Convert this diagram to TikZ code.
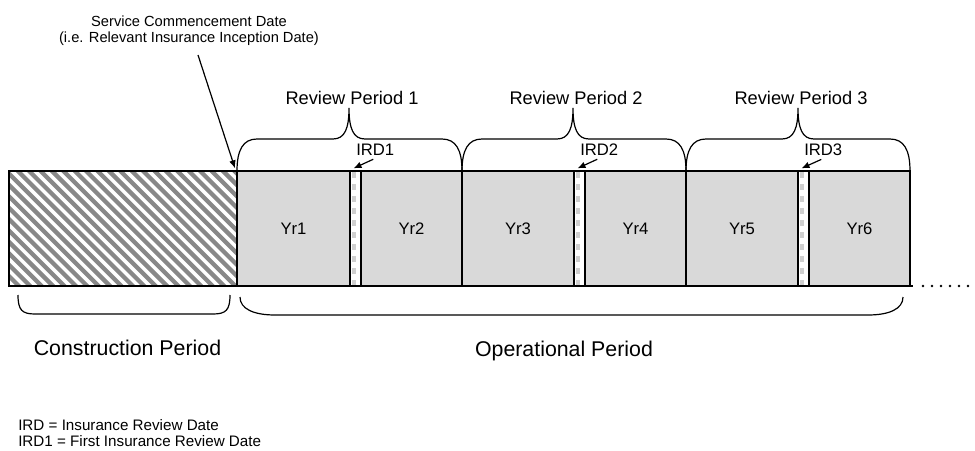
\documentclass[tikz,border=0pt]{standalone}
\usepackage{fontspec}
\setmainfont{Liberation Sans}
\usetikzlibrary{arrows.meta,calc}
\definecolor{boxgray}{HTML}{D9D9D9}
\definecolor{hatchgray}{HTML}{888888}
\definecolor{stripgray}{HTML}{CFCFCF}
\newcommand\TopBrace[3]{%
  \draw[bracepath] (#1,171) .. controls (#1,150) and (#1+6,139) .. (#1+20,139)
    -- (#3-16,139) .. controls (#3-4,139) and (#3,128) .. (#3,108)
    .. controls (#3,128) and (#3+4,139) .. (#3+16,139)
    -- (#2-20,139) .. controls (#2-6,139) and (#2,150) .. (#2,171);}
\begin{document}
\begin{tikzpicture}[x=0.75pt,y=-0.75pt,
  yearbox/.style={draw=black, fill=boxgray, line width=1pt, minimum height=115*0.75pt,
    inner sep=0pt, outer sep=0pt, anchor=north west, font=\fontsize{12.5}{15}\selectfont},
  irdbox/.style={draw=black, fill=white, line width=1pt, minimum height=115*0.75pt,
    minimum width=11*0.75pt, inner sep=0pt, outer sep=0pt, anchor=north west},
  hatchbox/.style={draw=black, fill=white, line width=1pt, minimum height=115*0.75pt,
    inner sep=0pt, outer sep=0pt, anchor=north west},
  bracepath/.style={draw=black, line width=0.9pt},
  rplabel/.style={anchor=base, inner sep=0pt, font=\fontsize{13.7}{16}\selectfont},
  irdlabel/.style={anchor=base west, inner sep=0pt, font=\fontsize{12.5}{15}\selectfont},
  smalltext/.style={inner sep=0pt, font=\fontsize{11}{12}\selectfont},
  legendtext/.style={inner sep=0pt, anchor=base west, font=\fontsize{11.4}{12}\selectfont},
  bigtext/.style={anchor=base, inner sep=0pt, font=\fontsize{16}{19}\selectfont},
  arr/.style={-{Latex[length=6pt,width=5pt]}, line width=0.9pt}]
\useasboundingbox (0,0) rectangle (975,450);

% construction (hatched) box
\node[hatchbox, minimum width=228*0.75pt] (con) at (9,171) {};
\begin{scope}
  \clip (con.south west) rectangle (con.north east);
  \foreach \k in {-130,-118.6,...,250} \draw[hatchgray, line width=3.2pt] (\k,160) -- ++(140,140);
\end{scope}
\draw[line width=1pt] (con.south west) rectangle (con.north east);

% year boxes and review-date strips
\node[yearbox, minimum width=113*0.75pt] (yr1) at (237,171) {Yr1};
\node[irdbox] (ird1) at (350,171) {};
\node[yearbox, minimum width=101*0.75pt] (yr2) at (361,171) {Yr2};
\node[yearbox, minimum width=112*0.75pt] (yr3) at (462,171) {Yr3};
\node[irdbox] (ird2) at (574,171) {};
\node[yearbox, minimum width=101*0.75pt] (yr4) at (585,171) {Yr4};
\node[yearbox, minimum width=112*0.75pt] (yr5) at (686,171) {Yr5};
\node[irdbox] (ird3) at (798,171) {};
\node[yearbox, minimum width=101*0.75pt] (yr6) at (809,171) {Yr6};

\foreach \s in {ird1,ird2,ird3}{
  \draw[stripgray, line width=3pt, dash pattern=on 4.5pt off 4.5pt]
    ([xshift=-0.8pt,yshift=-1pt]\s.north) -- ([xshift=-0.8pt,yshift=1pt]\s.south);
  \draw[line width=1.8pt] (\s.north west) -- (\s.south west);
}

% bottom line
\draw[line width=1.6pt] (con.south west) -- ([xshift=2.2pt]yr6.south east);

% continuation dots
\foreach \i in {0,...,5} \fill (923+9*\i,286) circle (1.3);

% review period braces
\TopBrace{237}{462}{349}
\TopBrace{462}{686}{573}
\TopBrace{686}{910}{798}
\node[rplabel] (rp1) at (352,104) {Review Period 1};
\node[rplabel] (rp2) at (576,104) {Review Period 2};
\node[rplabel] (rp3) at (801,104) {Review Period 3};

% IRD labels and arrows
\node[irdlabel] (l1) at (356,155) {IRD1};
\node[irdlabel] (l2) at (580,155) {IRD2};
\node[irdlabel] (l3) at (804,155) {IRD3};
\draw[arr] ([xshift=-1.5pt,yshift=-3pt]l1.south) -- ([xshift=-1.5pt,yshift=2pt]ird1.north);
\draw[arr] ([xshift=-1.5pt,yshift=-3pt]l2.south) -- ([xshift=-1.5pt,yshift=2pt]ird2.north);
\draw[arr] ([xshift=-1.5pt,yshift=-3pt]l3.south) -- ([xshift=-1.5pt,yshift=2pt]ird3.north);

% service commencement
\node[smalltext, align=center] (svc) at (189,30.5) {Service Commencement Date\\(i.e. Relevant Insurance Inception Date)};
\coordinate (svcstart) at (198,55);
\draw[arr] (svcstart) -- ([xshift=-1.5pt,yshift=2pt]yr1.north west);

% lower brackets
\draw[bracepath] (18,295) .. controls (18,310) and (22,314) .. (35,314) -- (213,314)
  .. controls (226,314) and (230,310) .. (230,295);
\draw[bracepath] (240,297) .. controls (240,309) and (254,315) .. (275,315) -- (868,315)
  .. controls (889,315) and (903,309) .. (903,297);
\node[bigtext] (conlab) at (127.5,355) {Construction Period};
\node[bigtext] (oplab) at (564,356) {Operational Period};

% legend
\node[legendtext] (leg1) at (18,430) {IRD = Insurance Review Date};
\node[legendtext] (leg2) at (18,446) {IRD1 = First Insurance Review Date};
\end{tikzpicture}
\end{document}
